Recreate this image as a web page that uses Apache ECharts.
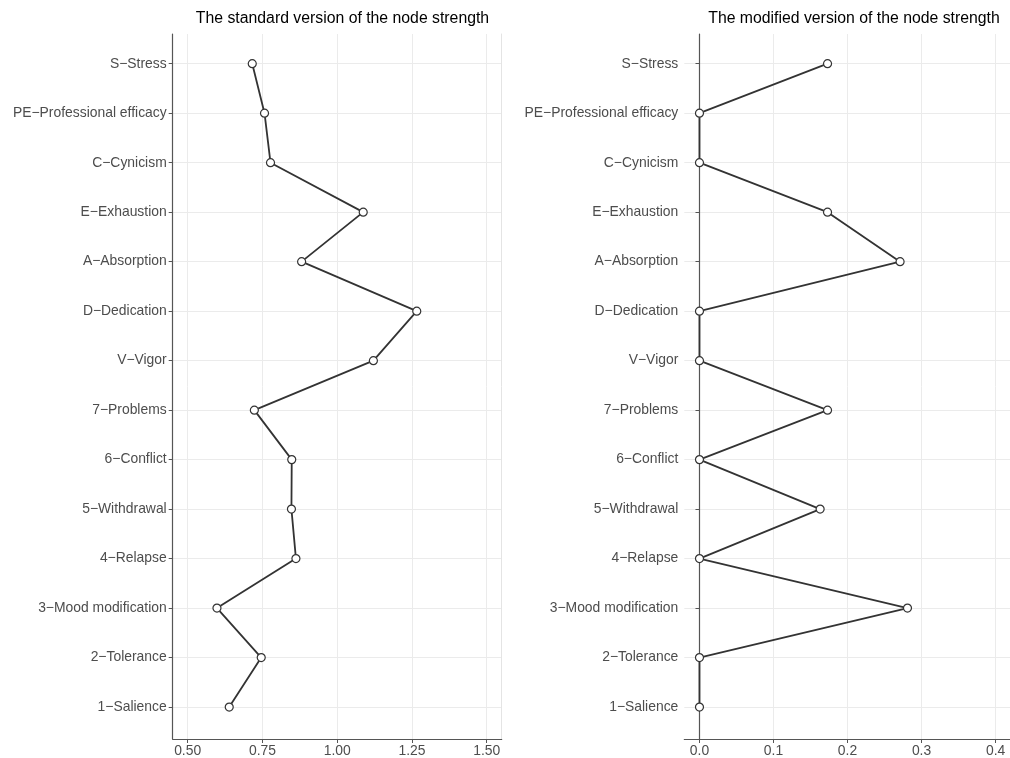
<!DOCTYPE html>
<html>
<head>
<meta charset="utf-8">
<script src="https://cdn.jsdelivr.net/npm/echarts@6/dist/echarts.min.js"></script>
<style>html,body{margin:0;padding:0;background:#fff}#c{width:1010px;height:758px}</style>
</head>
<body>
<div id="c"></div>
<script>
// categories from bottom (index 0) to top (index 13)
const categories = ["1−Salience","2−Tolerance","3−Mood modification","4−Relapse","5−Withdrawal","6−Conflict","7−Problems","V−Vigor","D−Dedication","A−Absorption","E−Exhaustion","C−Cynicism","PE−Professional efficacy","S−Stress"];
const standardValues = [0.639,0.746,0.598,0.862,0.847,0.848,0.723,1.121,1.266,0.881,1.087,0.777,0.757,0.716];
const modifiedValues = [0,0,0.281,0,0.163,0,0.173,0,0,0.271,0.173,0,0,0.173];
const standardTicks = [0.5,0.75,1.0,1.25,1.5];
const modifiedTicks = [0,0.1,0.2,0.3,0.4];
const titles = ["The standard version of the node strength","The modified version of the node strength"];

const yTicks = categories.map((c,i)=>i);
const FONT = "Liberation Sans";
const gridColor = "#ebebeb";
const axisColor = "#555";
const labelColor = "#4d4d4d";

function yAxis(gi){
  return {
    type:"value", gridIndex:gi, min:-0.645, max:13.6,
    axisLine:{show:true,lineStyle:{color:axisColor,width:1.2}},
    axisTick:{show:true,length:4,lineStyle:{color:axisColor},customValues:yTicks},
    axisLabel:{customValues:yTicks,formatter:v=>categories[Math.round(v)],color:labelColor,fontSize:13.9,fontFamily:FONT,margin:6},
    splitLine:{show:true,lineStyle:{color:gridColor,width:1}}
  };
}
function borderAxis(gi){
  return {
    type:"value", gridIndex:gi, position:"right", min:0, max:1,
    axisLine:{show:true,lineStyle:{color:"#e4e4e4",width:1}},
    axisTick:{show:false}, axisLabel:{show:false}, splitLine:{show:false}
  };
}
function xAxis(gi,min,max,ticks,dec){
  return {
    type:"value", gridIndex:gi, min:min, max:max,
    axisLine:{show:true,onZero:false,lineStyle:{color:axisColor,width:1.2}},
    axisTick:{show:true,length:4,lineStyle:{color:axisColor},customValues:ticks},
    axisLabel:{customValues:ticks,formatter:v=>v.toFixed(dec),color:labelColor,fontSize:13.9,fontFamily:FONT,margin:5,showMinLabel:true,showMaxLabel:true},
    splitLine:{show:true,lineStyle:{color:gridColor,width:1}}
  };
}
function series(gi,vals){
  return {
    type:"line", xAxisIndex:gi, yAxisIndex:gi,
    data: vals.map((v,i)=>[v,i]),
    symbol:"circle", symbolSize:8,
    lineStyle:{color:"#333",width:1.8},
    itemStyle:{color:"#fff",borderColor:"#333",borderWidth:1.2},
    z:3, animation:false
  };
}

const chart = echarts.init(document.getElementById("c"),null,{renderer:"canvas"});
chart.setOption({
  animation:false,
  backgroundColor:"#fff",
  title:[
    {text:titles[0],left:337.5,top:6,textAlign:"center",textStyle:{fontFamily:FONT,fontSize:15.8,fontWeight:"normal",color:"#000"}},
    {text:titles[1],left:849,top:6,textAlign:"center",textStyle:{fontFamily:FONT,fontSize:15.8,fontWeight:"normal",color:"#000"}}
  ],
  grid:[
    {left:172.7,top:34,width:329,height:706.7},
    {left:684.3,top:34,width:328.9,height:706.7}
  ],
  xAxis:[xAxis(0,0.45,1.55,standardTicks,2), xAxis(1,-0.0205,0.4195,modifiedTicks,1)],
  yAxis:[yAxis(0), yAxis(1), borderAxis(0)],
  series:[series(0,standardValues), series(1,modifiedValues)]
});
</script>
</body>
</html>
